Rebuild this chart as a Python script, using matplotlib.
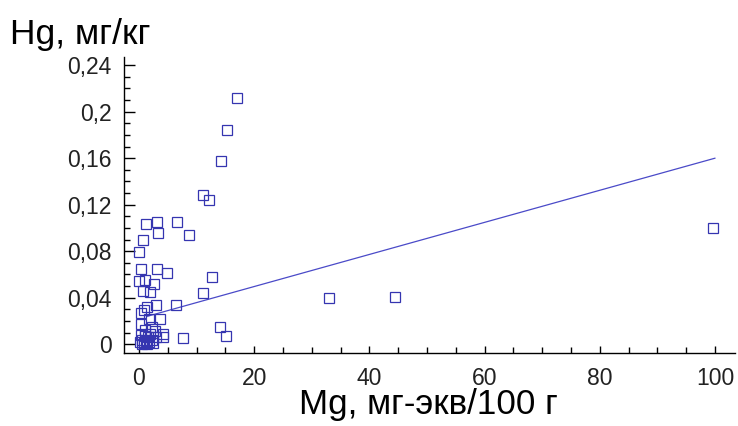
import matplotlib
matplotlib.use("Agg")
import matplotlib.pyplot as plt
from matplotlib.ticker import MultipleLocator, FuncFormatter

plt.rcParams["font.family"] = ["Liberation Sans", "DejaVu Sans"]

# Mg, mg-eq/100 g  vs  Hg, mg/kg
mg = [17.0, 15.3, 14.2, 11.1, 12.2,
      1.2, 3.1, 6.6, 3.3, 8.7, 0.7, 0.0, 0.3, 3.1, 4.9, 12.7,
      0.0, 1.0, 2.6, 0.7, 1.9, 11.1, 3.0, 1.4, 6.4, 0.9, 0.3,
      0.3, 1.7, 3.6, 2.3, 14.1, 4.2, 4.2, 7.6, 15.1,
      33.0, 44.4, 99.7,
      0.2, 0.5, 0.8, 1.2, 1.5, 1.8, 2.2, 0.3, 1.0, 2.5, 0.6, 1.4,
      2.0, 3.0, 2.8, 1.1]
hg = [0.212, 0.184, 0.158, 0.128, 0.124,
      0.103, 0.105, 0.105, 0.096, 0.094, 0.090, 0.079, 0.065, 0.065, 0.061, 0.058,
      0.054, 0.055, 0.052, 0.046, 0.045, 0.044, 0.034, 0.032, 0.034, 0.029, 0.027,
      0.017, 0.022, 0.022, 0.015, 0.015, 0.009, 0.006, 0.005, 0.007,
      0.040, 0.041, 0.100,
      0.002, 0.004, 0.001, 0.003, 0.006, 0.002, 0.004, 0.008, 0.007, 0.001, 0.000, 0.000,
      0.009, 0.006, 0.011, 0.012]

# linear fit as drawn
fit_x = [1.5, 100.0]
fit_intercept = 0.022
fit_slope = 0.00138

xticks = [0, 20, 40, 60, 80, 100]
yticks = [0, 0.04, 0.08, 0.12, 0.16, 0.2, 0.24]

fig = plt.figure(figsize=(7.38, 4.26), dpi=100)
ax = fig.add_axes([0.168, 0.171, 0.828, 0.695])

ax.plot(fit_x, [fit_intercept + fit_slope * x for x in fit_x],
        color="#4a4ac8", lw=0.9, zorder=2)
ax.plot(mg, hg, ls="none", marker="s", ms=7.0, mfc="none",
        mec="#3535b0", mew=0.9, zorder=3)

ax.set_xlim(-2.6, 103.5)
ax.set_ylim(-0.0077, 0.247)
ax.set_xticks(xticks)
ax.set_yticks(yticks)
ax.xaxis.set_minor_locator(MultipleLocator(5))
ax.yaxis.set_minor_locator(MultipleLocator(0.01))
ax.yaxis.set_major_formatter(FuncFormatter(lambda v, p: f"{v:g}".replace(".", ",")))

for s in ["top", "right"]:
    ax.spines[s].set_visible(False)
for s in ["left", "bottom"]:
    ax.spines[s].set_linewidth(1.0)

ax.tick_params(axis="both", which="major", direction="in", width=1.0,
               labelsize=16.5, labelcolor="#222222")
ax.tick_params(axis="both", which="minor", direction="in", length=4, width=1.0)
ax.tick_params(axis="x", which="major", length=5, pad=10)
ax.tick_params(axis="y", which="major", length=8, pad=9)

fig.text(0.014, 0.920, "Hg, мг/кг", fontsize=25.5, ha="left", va="center")
fig.text(0.581, 0.050, "Mg, мг-экв/100 г", fontsize=25.2, ha="center", va="center")

fig.savefig("out.png", dpi=100)
